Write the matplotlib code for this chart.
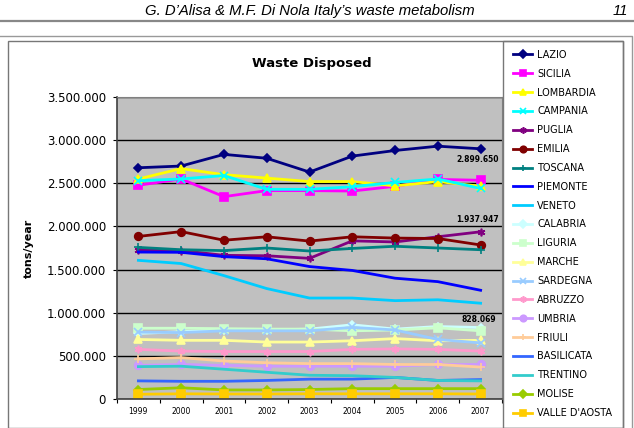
import matplotlib.pyplot as plt
from matplotlib.patches import Rectangle
from matplotlib.lines import Line2D
from matplotlib.ticker import FuncFormatter, FixedLocator
import numpy as np

years = ["1999", "2000", "2001", "2002", "2003", "2004", "2005", "2006", "2007"]

lazio = [2680000, 2700000, 2835000, 2790000, 2630000, 2815000, 2880000, 2930000, 2899650]
sicilia = [2477000, 2550000, 2345000, 2415000, 2415000, 2410000, 2465000, 2545000, 2535000]
lombardia = [2550000, 2670000, 2600000, 2560000, 2520000, 2520000, 2470000, 2520000, 2465000]
campania = [2530000, 2550000, 2590000, 2430000, 2430000, 2460000, 2510000, 2550000, 2440000]
puglia = [1730000, 1720000, 1665000, 1660000, 1630000, 1833000, 1820000, 1880000, 1937947]
emilia = [1884000, 1940000, 1840000, 1880000, 1830000, 1880000, 1865000, 1860000, 1785000]
toscana = [1757000, 1730000, 1720000, 1750000, 1715000, 1745000, 1770000, 1750000, 1730000]
piemonte = [1703000, 1700000, 1650000, 1625000, 1535000, 1490000, 1400000, 1360000, 1260000]
veneto = [1607000, 1570000, 1430000, 1280000, 1170000, 1170000, 1140000, 1150000, 1110000]
calabria = [760000, 780000, 800000, 800000, 810000, 860000, 810000, 840000, 828069]
liguria = [820000, 820000, 815000, 810000, 810000, 790000, 800000, 825000, 790000]
marche = [690000, 680000, 680000, 660000, 660000, 675000, 700000, 675000, 680000]
sardegna = [775000, 770000, 790000, 790000, 790000, 830000, 800000, 690000, 650000]
abruzzo = [575000, 555000, 550000, 550000, 550000, 575000, 580000, 575000, 555000]
umbria = [390000, 400000, 390000, 380000, 380000, 380000, 380000, 400000, 400000]
friuli = [465000, 480000, 440000, 420000, 410000, 410000, 400000, 400000, 370000]
basilicata = [210000, 205000, 205000, 215000, 230000, 230000, 250000, 215000, 225000]
trentino = [375000, 380000, 345000, 310000, 275000, 270000, 250000, 215000, 210000]
molise = [110000, 130000, 105000, 105000, 110000, 120000, 120000, 120000, 120000]
valle_daosta = [55000, 60000, 58000, 58000, 60000, 60000, 60000, 60000, 58000]

# name, values, colour, marker
series = [
    ("LAZIO", lazio, "#000080", "D"),
    ("SICILIA", sicilia, "#FF00FF", "s"),
    ("LOMBARDIA", lombardia, "#FFFF00", "^"),
    ("CAMPANIA", campania, "#00FFFF", "x"),
    ("PUGLIA", puglia, "#800080", (6, 2, 0)),
    ("EMILIA", emilia, "#800000", "o"),
    ("TOSCANA", toscana, "#008080", "+"),
    ("PIEMONTE", piemonte, "#0000FF", None),
    ("VENETO", veneto, "#00CCFF", None),
    ("CALABRIA", calabria, "#CCFFFF", "D"),
    ("LIGURIA", liguria, "#CCFFCC", "s"),
    ("MARCHE", marche, "#FFFF99", "^"),
    ("SARDEGNA", sardegna, "#99CCFF", "x"),
    ("ABRUZZO", abruzzo, "#FF99CC", (6, 2, 0)),
    ("UMBRIA", umbria, "#CC99FF", "o"),
    ("FRIULI", friuli, "#FFCC99", "+"),
    ("BASILICATA", basilicata, "#3366FF", None),
    ("TRENTINO", trentino, "#33CCCC", None),
    ("MOLISE", molise, "#99CC00", "D"),
    ("VALLE D'AOSTA", valle_daosta, "#FFCC00", "s"),
]

W, H = 634, 428
fig = plt.figure(figsize=(W / 100, H / 100), dpi=100)
fig.patch.set_facecolor("white")

# page decorations (header of the scanned paper)
fig.text(310 / W, 1 - 11 / H, "G. D\u2019Alisa & M.F. Di Nola Italy\u2019s waste metabolism",
         ha="center", va="center", fontsize=10.7, style="italic", family="Liberation Sans")
fig.text(628 / W, 1 - 11 / H, "11", ha="right", va="center", fontsize=10.7,
         style="italic", family="Liberation Sans")
fig.add_artist(Line2D([0, 1], [1 - 21 / H, 1 - 21 / H], color="#888888", lw=1.6,
                      transform=fig.transFigure))
fig.add_artist(Line2D([0, 632 / W, 632 / W], [1 - 35.5 / H, 1 - 35.5 / H, 0],
                      color="#999999", lw=1.0, transform=fig.transFigure))
fig.add_artist(Rectangle((8 / W, 0.5 / H), 615 / W, (427.5 - 40.5) / H, fill=False,
                         edgecolor="#777777", lw=1.0, transform=fig.transFigure))
# legend frame
fig.add_artist(Rectangle((503 / W, 0.5 / H), 120 / W, (427.5 - 40.5) / H, fill=False,
                         edgecolor="#777777", lw=1.0, transform=fig.transFigure))

ax = fig.add_axes([117 / W, 1 - 399 / H, (502 - 117) / W, (399 - 97) / H])
ax.set_facecolor("#C0C0C0")

x = np.arange(len(years))
handles = []
for name, vals, col, mk in series:
    ms = 4.5 if mk == "D" else 5.5
    (ln,) = ax.plot(x, vals, color=col, lw=2, marker=mk, markersize=ms,
                    markeredgewidth=1.2, label=name)
    handles.append(ln)

ax.set_xlim(-0.5, len(years) - 0.5)
ax.set_ylim(0, 3500000)
ax.yaxis.set_major_locator(FixedLocator(np.arange(0, 3500001, 500000)))
ax.yaxis.set_major_formatter(FuncFormatter(lambda v, p: f"{int(v):,}".replace(",", ".")))
ax.grid(axis="y", color="black", lw=1)
ax.set_axisbelow(True)

ax.set_xticks(np.arange(-0.5, len(years), 1))
ax.set_xticklabels([])
ax.set_xticks(x, minor=True)
ax.set_xticklabels(years, minor=True, fontsize=5.5)
ax.tick_params(axis="x", which="minor", length=0, pad=6)
ax.tick_params(axis="x", which="major", length=3, direction="out")
ax.tick_params(axis="y", labelsize=8.5, length=3, direction="out", pad=5)

for s in ["top", "right"]:
    ax.spines[s].set_color("#808080")
for s in ["left", "bottom"]:
    ax.spines[s].set_color("#404040")
    ax.spines[s].set_linewidth(1.2)

ax.set_ylabel("tons/year", fontsize=8, fontweight="bold", labelpad=9)
fig.text(312 / W, 1 - 64 / H, "Waste Disposed", ha="center", va="center",
         fontsize=9.5, fontweight="bold")

# data labels at 2007
ax.annotate("2.899.650", xy=(8, lazio[-1]), xytext=(13, -7.5), textcoords="offset points",
            ha="right", va="center", fontsize=5.5, fontweight="bold")
ax.annotate("1.937.947", xy=(8, puglia[-1]), xytext=(13, 9), textcoords="offset points",
            ha="right", va="center", fontsize=5.5, fontweight="bold")
ax.annotate("828.069", xy=(8, calabria[-1]), xytext=(11.5, 6), textcoords="offset points",
            ha="right", va="center", fontsize=5.5, fontweight="bold")

fig.legend(handles=handles, loc="upper left", bbox_to_anchor=(508 / W, 1 - 45 / H),
           frameon=False, fontsize=7, handlelength=2.0, handletextpad=0.5,
           labelspacing=0.91, borderpad=0, markerscale=0.85)

fig.savefig("out.png", dpi=100)
